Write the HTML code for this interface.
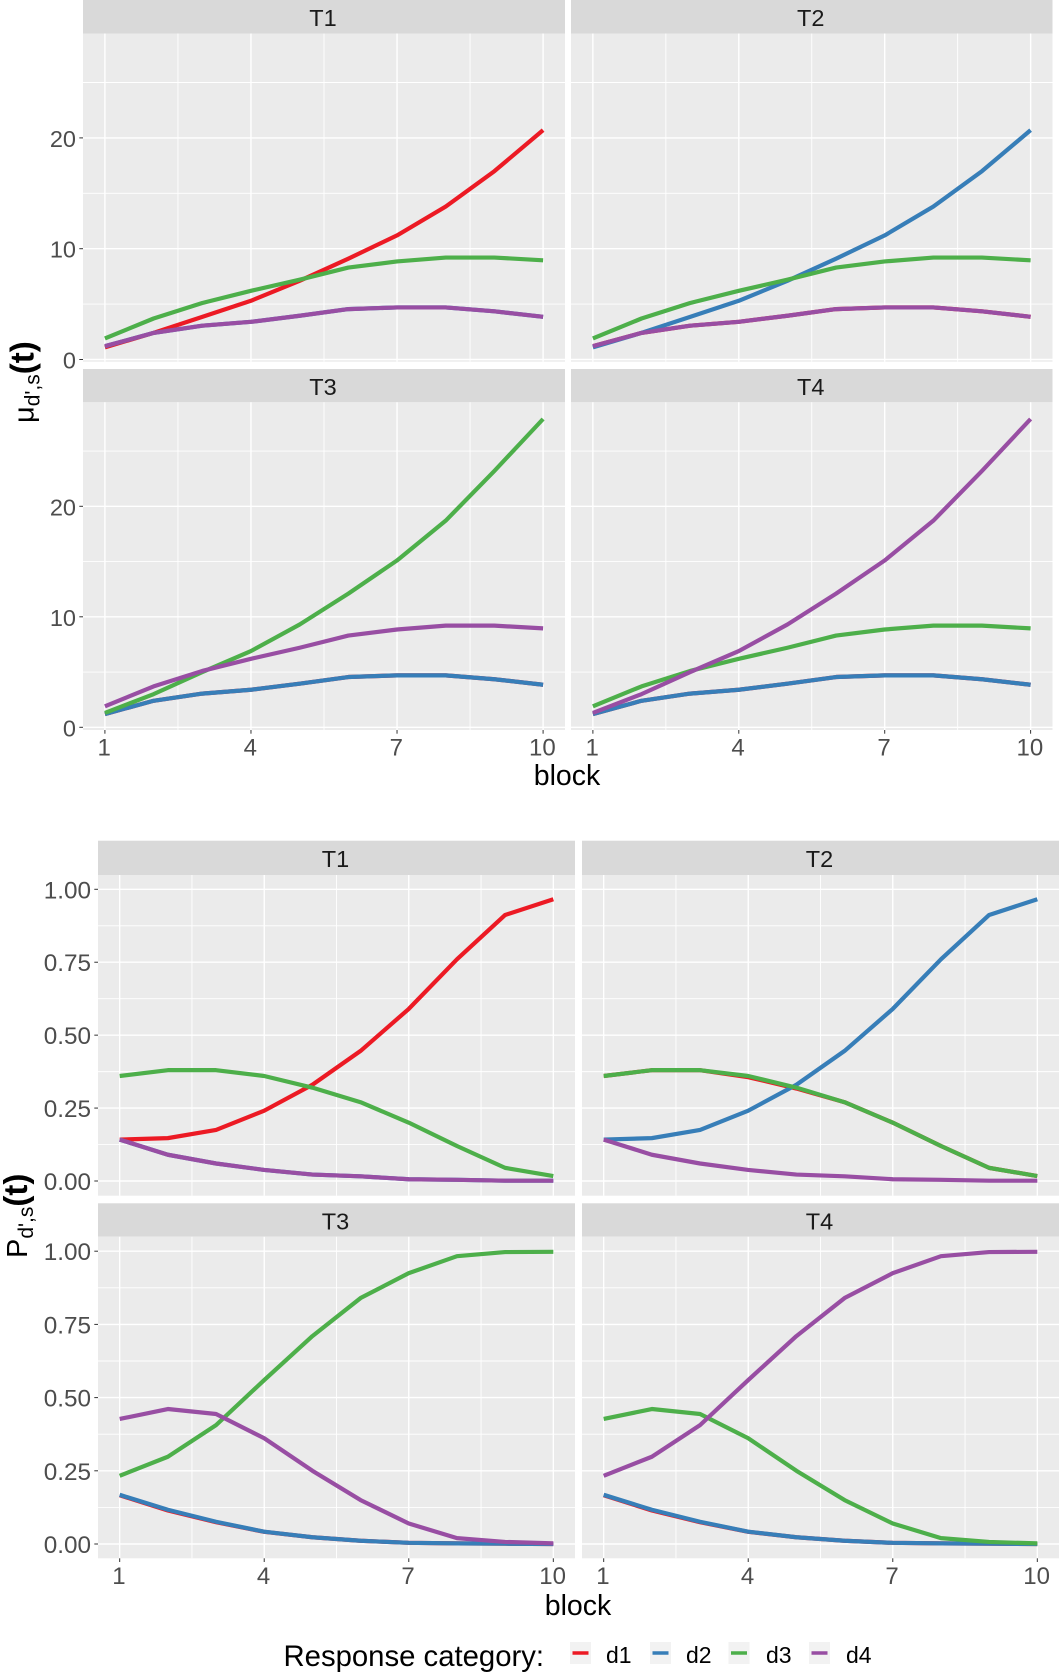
<!DOCTYPE html>
<html lang="en">
<head>
<meta charset="utf-8">
<title>Response category curves by block</title>
<style>
  html, body { margin: 0; padding: 0; background: #ffffff; }
  body { width: 1059px; height: 1675px; overflow: hidden; }
  svg { display: block; font-family: "Liberation Sans", sans-serif; }
</style>
</head>
<body>
<svg id="figure" xmlns="http://www.w3.org/2000/svg" width="1059" height="1675" viewBox="0 0 1059 1675">
  <g id="panels"></g>

  <text x="567" y="785" font-size="28.5" text-anchor="middle" fill="#000">block</text>
  <text x="578" y="1615" font-size="28.5" text-anchor="middle" fill="#000">block</text>

  <text transform="translate(33.5,423) rotate(-90)" fill="#000"><tspan font-size="29">μ</tspan><tspan font-size="21" dy="6">d',s</tspan><tspan font-size="33" font-weight="bold" dy="-6">(t)</tspan></text>
  <text transform="translate(27,1258) rotate(-90)" fill="#000"><tspan font-size="29">P</tspan><tspan font-size="21" dy="6">d',s</tspan><tspan font-size="33" font-weight="bold" dy="-6">(t)</tspan></text>

  <g>
    <text x="283.5" y="1666" font-size="29.3" fill="#000">Response category:</text>
    <g>
      <rect x="570" y="1642" width="21" height="22" fill="#f2f2f2"/>
      <line x1="572.5" x2="588.5" y1="1653" y2="1653" stroke="#ec1a24" stroke-width="3.5"/>
      <text x="606" y="1663" font-size="23" fill="#000">d1</text>
    </g>
    <g>
      <rect x="650" y="1642" width="21" height="22" fill="#f2f2f2"/>
      <line x1="652.5" x2="668.5" y1="1653" y2="1653" stroke="#377eb8" stroke-width="3.5"/>
      <text x="686" y="1663" font-size="23" fill="#000">d2</text>
    </g>
    <g>
      <rect x="728.5" y="1642" width="21" height="22" fill="#f2f2f2"/>
      <line x1="731" x2="747" y1="1653" y2="1653" stroke="#4daf4a" stroke-width="3.5"/>
      <text x="766" y="1663" font-size="23" fill="#000">d3</text>
    </g>
    <g>
      <rect x="809" y="1642" width="21" height="22" fill="#f2f2f2"/>
      <line x1="811.5" x2="827.5" y1="1653" y2="1653" stroke="#984ea3" stroke-width="3.5"/>
      <text x="846" y="1663" font-size="23" fill="#000">d4</text>
    </g>
  </g>
</svg>

<script>
// ---------- Data ----------
const blocks = [1, 2, 3, 4, 5, 6, 7, 8, 9, 10];
const xTickValues = [1, 4, 7, 10];
const xMinorValues = [2.5, 5.5, 8.5];

const muYTicks = [0, 10, 20];
const muYMinor = [5, 15, 25];
const muYTickLabels = ["0", "10", "20"];
const probYTicks = [0, 0.25, 0.5, 0.75, 1];
const probYMinor = [0.125, 0.375, 0.625, 0.875];
const probYTickLabels = ["0.00", "0.25", "0.50", "0.75", "1.00"];

// Expected counts (top chart)
const muRise = [1.1, 2.4, 3.85, 5.3, 7.1, 9.1, 11.2, 13.8, 17.0, 20.7];
const muSteep = [1.3, 3.0, 5.0, 6.9, 9.3, 12.1, 15.1, 18.7, 23.2, 27.9];
const muMiddle = [1.9, 3.7, 5.1, 6.2, 7.2, 8.3, 8.85, 9.2, 9.2, 8.95];
const muLow = [1.2, 2.4, 3.05, 3.4, 3.95, 4.55, 4.7, 4.7, 4.35, 3.85];

// Probabilities (bottom chart, T1 and T2)
const probRise = [0.142, 0.147, 0.175, 0.241, 0.33, 0.446, 0.59, 0.76, 0.912, 0.966];
const probMiddle = [0.36, 0.38, 0.38, 0.36, 0.32, 0.27, 0.2, 0.12, 0.045, 0.017];
const probMiddleAlt = [0.36, 0.38, 0.38, 0.356, 0.317, 0.27, 0.2, 0.12, 0.045, 0.017];
const probLow = [0.142, 0.09, 0.06, 0.038, 0.022, 0.016, 0.006, 0.004, 0.001, 0.001];

// Probabilities (bottom chart, T3 and T4)
const probSigmoid = [0.233, 0.298, 0.406, 0.56, 0.71, 0.84, 0.925, 0.983, 0.997, 0.998];
const probHump = [0.427, 0.461, 0.444, 0.361, 0.25, 0.15, 0.07, 0.02, 0.007, 0.002];
const probDecay = [0.168, 0.117, 0.076, 0.042, 0.023, 0.011, 0.004, 0.002, 0.001, 0.0];
const probDecayAlt = [0.1665, 0.1145, 0.0745, 0.0415, 0.023, 0.011, 0.004, 0.002, 0.001, 0.0];

const seriesNames = ["d1", "d2", "d3", "d4"];
const seriesColors = ["#ec1a24", "#377eb8", "#4daf4a", "#984ea3"];

// ---------- Panel layout (geometry, not data) ----------
const facets = [
  { chart: "top", label: "T1", series: [muRise, muLow, muMiddle, muLow], left: 83, right: 565, stripTop: 0, top: 33.5, bottom: 361.7, zero: 359.5, unit: 11.08, showY: true, showX: false },
  { chart: "top", label: "T2", series: [muLow, muRise, muMiddle, muLow], left: 571, right: 1052.5, stripTop: 0, top: 33.5, bottom: 361.7, zero: 359.5, unit: 11.08, showY: false, showX: false },
  { chart: "top", label: "T3", series: [muLow, muLow, muSteep, muMiddle], left: 83, right: 565, stripTop: 369, top: 402.3, bottom: 730, zero: 727.3, unit: 11.05, showY: true, showX: true },
  { chart: "top", label: "T4", series: [muLow, muLow, muMiddle, muSteep], left: 571, right: 1052.5, stripTop: 369, top: 402.3, bottom: 730, zero: 727.3, unit: 11.05, showY: false, showX: true },
  { chart: "bottom", label: "T1", series: [probRise, probLow, probMiddle, probLow], left: 98, right: 575, stripTop: 840.7, top: 875, bottom: 1195.7, zero: 1181, unit: 291.7, showY: true, showX: false },
  { chart: "bottom", label: "T2", series: [probMiddleAlt, probRise, probMiddle, probLow], left: 582, right: 1059, stripTop: 840.7, top: 875, bottom: 1195.7, zero: 1181, unit: 291.7, showY: false, showX: false },
  { chart: "bottom", label: "T3", series: [probDecayAlt, probDecay, probSigmoid, probHump], left: 98, right: 575, stripTop: 1203.3, top: 1236.7, bottom: 1558.3, zero: 1544, unit: 292.8, showY: true, showX: true },
  { chart: "bottom", label: "T4", series: [probDecayAlt, probDecay, probHump, probSigmoid], left: 582, right: 1059, stripTop: 1203.3, top: 1236.7, bottom: 1558.3, zero: 1544, unit: 292.8, showY: false, showX: true }
];

const SVG_NS = "http://www.w3.org/2000/svg";
const panelsRoot = document.getElementById("panels");

function make(tag, attrs, parent) {
  const el = document.createElementNS(SVG_NS, tag);
  for (const key in attrs) el.setAttribute(key, attrs[key]);
  parent.appendChild(el);
  return el;
}

function drawFacet(f) {
  const prefix = f.chart + "-" + f.label.toLowerCase();
  const xMin = blocks[0];
  const xMax = blocks[blocks.length - 1];
  const span = xMax - xMin;
  const plotWidth = f.right - f.left;
  const xScale = function (v) {
    return f.left + plotWidth * ((v - xMin + span * 0.05) / (span * 1.1));
  };
  const yScale = function (v) {
    return f.zero - v * f.unit;
  };

  const group = make("g", {}, panelsRoot);
  
  

  const strip = make("rect", { x: f.left, y: f.stripTop, width: plotWidth, height: f.top - f.stripTop, fill: "#d9d9d9" }, group);
  
  

  const stripLabel = make("text", { x: (f.left + f.right) / 2 - 1, y: (f.stripTop + f.top) / 2 + 9.3, "text-anchor": "middle", "font-size": 23.5, fill: "#1a1a1a" }, group);
  stripLabel.textContent = f.label;
  
  

  const bg = make("rect", { x: f.left, y: f.top, width: plotWidth, height: f.bottom - f.top, fill: "#ebebeb" }, group);
  
  

  const isTop = f.chart === "top";
  const yMajor = isTop ? muYTicks : probYTicks;
  const yMinor = isTop ? muYMinor : probYMinor;
  const yLabels = isTop ? muYTickLabels : probYTickLabels;

  yMinor.forEach(function (v) {
    const g = make("line", { x1: f.left, x2: f.right, y1: yScale(v), y2: yScale(v), stroke: "#fff", "stroke-width": 0.9 }, group);
    
    
  });
  xMinorValues.forEach(function (v) {
    const g = make("line", { x1: xScale(v), x2: xScale(v), y1: f.top, y2: f.bottom, stroke: "#fff", "stroke-width": 0.9 }, group);
    
    
  });
  yMajor.forEach(function (v, i) {
    const g = make("line", { x1: f.left, x2: f.right, y1: yScale(v), y2: yScale(v), stroke: "#fff", "stroke-width": 1.4 }, group);
    
    
    if (f.showY) {
      const tick = make("line", { x1: f.left - 3.7, x2: f.left, y1: yScale(v), y2: yScale(v), stroke: "#333", "stroke-width": 1 }, group);
      
      
      const label = make("text", { x: f.left - 7, y: yScale(v) + 9, "text-anchor": "end", "font-size": isTop ? 23.5 : 24.3, fill: "#4d4d4d" }, group);
      label.textContent = yLabels[i];
      
      
    }
  });
  xTickValues.forEach(function (v) {
    const g = make("line", { x1: xScale(v), x2: xScale(v), y1: f.top, y2: f.bottom, stroke: "#fff", "stroke-width": 1.4 }, group);
    
    
    if (f.showX) {
      const tick = make("line", { x1: xScale(v), x2: xScale(v), y1: f.bottom, y2: f.bottom + 3.7, stroke: "#333", "stroke-width": 1 }, group);
      
      
      const label = make("text", { x: xScale(v) - 0.7, y: f.bottom + 25.5, "text-anchor": "middle", "font-size": 24, fill: "#4d4d4d" }, group);
      label.textContent = String(v);
      
      
    }
  });

  f.series.forEach(function (values, s) {
    const points = values.map(function (v, i) {
      return xScale(blocks[i]).toFixed(2) + "," + yScale(v).toFixed(2);
    }).join(" ");
    const line = make("polyline", { points: points, fill: "none", stroke: seriesColors[s], "stroke-width": 4.2, "stroke-linejoin": "round", "stroke-linecap": "butt" }, group);
    
    
  });
}

facets.forEach(drawFacet);
</script>
</body>
</html>
